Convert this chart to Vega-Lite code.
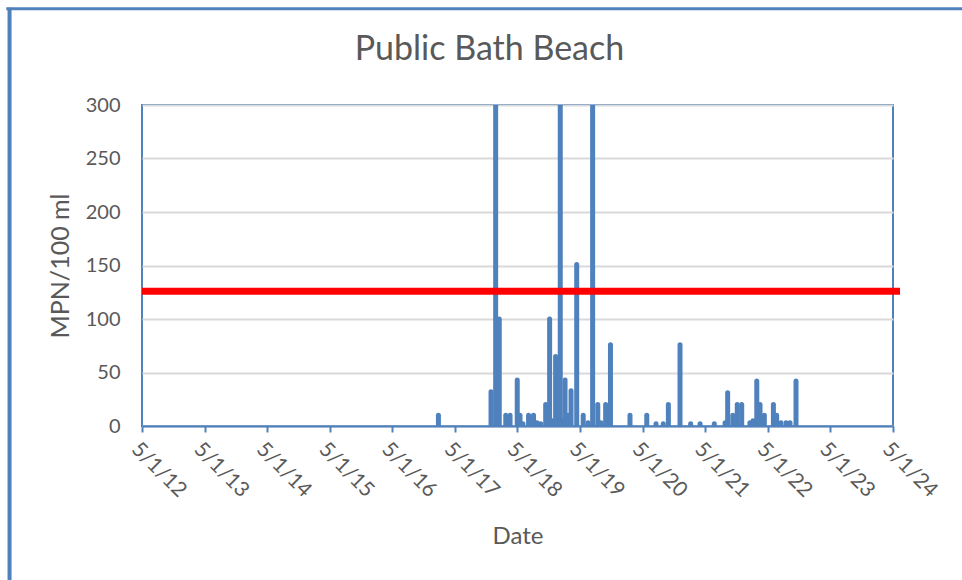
{
  "$schema": "https://vega.github.io/schema/vega-lite/v6.json",
  "width": 751,
  "height": 321,
  "autosize": "none",
  "padding": {"left": 142, "top": 105, "right": 69, "bottom": 154},
  "background": "white",
  "config": {
    "view": {"stroke": "#4F81BD", "strokeWidth": 2},
    "font": "Lato",
    "text": {"font": "Lato"}
  },
  "title": {
    "text": "Public Bath Beach",
    "font": "Lato",
    "fontSize": 34,
    "fontWeight": "normal",
    "color": "#595959",
    "dx": -28,
    "offset": -61
  },
  "layer": [
    {
      "data": {"values": [
        {"date": "2017-01-25", "mpn": 10},
        {"date": "2017-11-28", "mpn": 32},
        {"date": "2017-12-25", "mpn": 1000},
        {"date": "2018-01-15", "mpn": 100},
        {"date": "2018-02-22", "mpn": 10},
        {"date": "2018-03-19", "mpn": 10},
        {"date": "2018-04-30", "mpn": 43},
        {"date": "2018-05-16", "mpn": 10},
        {"date": "2018-06-02", "mpn": 2},
        {"date": "2018-07-05", "mpn": 10},
        {"date": "2018-08-03", "mpn": 10},
        {"date": "2018-08-23", "mpn": 3},
        {"date": "2018-09-14", "mpn": 2},
        {"date": "2018-10-13", "mpn": 20},
        {"date": "2018-11-05", "mpn": 100},
        {"date": "2018-11-20", "mpn": 5},
        {"date": "2018-12-10", "mpn": 65},
        {"date": "2019-01-06", "mpn": 1000},
        {"date": "2019-01-20", "mpn": 5},
        {"date": "2019-02-03", "mpn": 43},
        {"date": "2019-02-20", "mpn": 10},
        {"date": "2019-03-10", "mpn": 33},
        {"date": "2019-04-12", "mpn": 151},
        {"date": "2019-05-20", "mpn": 10},
        {"date": "2019-06-17", "mpn": 3},
        {"date": "2019-07-14", "mpn": 1000},
        {"date": "2019-08-13", "mpn": 20},
        {"date": "2019-09-01", "mpn": 3},
        {"date": "2019-09-28", "mpn": 20},
        {"date": "2019-10-26", "mpn": 76},
        {"date": "2020-02-17", "mpn": 10},
        {"date": "2020-05-25", "mpn": 10},
        {"date": "2020-07-18", "mpn": 2},
        {"date": "2020-08-29", "mpn": 2},
        {"date": "2020-09-28", "mpn": 20},
        {"date": "2020-12-05", "mpn": 76},
        {"date": "2021-02-05", "mpn": 2},
        {"date": "2021-04-01", "mpn": 2},
        {"date": "2021-06-23", "mpn": 2},
        {"date": "2021-08-25", "mpn": 3},
        {"date": "2021-09-09", "mpn": 31},
        {"date": "2021-10-09", "mpn": 10},
        {"date": "2021-11-04", "mpn": 20},
        {"date": "2021-11-30", "mpn": 20},
        {"date": "2022-01-17", "mpn": 3},
        {"date": "2022-02-04", "mpn": 5},
        {"date": "2022-02-26", "mpn": 42},
        {"date": "2022-03-17", "mpn": 20},
        {"date": "2022-04-11", "mpn": 10},
        {"date": "2022-06-03", "mpn": 20},
        {"date": "2022-06-22", "mpn": 10},
        {"date": "2022-07-17", "mpn": 3},
        {"date": "2022-08-16", "mpn": 3},
        {"date": "2022-09-08", "mpn": 3},
        {"date": "2022-10-13", "mpn": 42}
      ]},
      "mark": {"type": "rule", "strokeWidth": 5, "strokeCap": "round", "color": "#4F81BD", "clip": true},
      "encoding": {
        "x": {
          "field": "date",
          "type": "temporal",
          "title": "Date",
          "scale": {"type": "utc", "domain": [{"year": 2012, "month": 5, "date": 1, "utc": true}, {"year": 2024, "month": 5, "date": 1, "utc": true}], "nice": false},
          "axis": {
            "values": [
              {"year": 2012, "month": 5, "date": 1, "utc": true},
              {"year": 2013, "month": 5, "date": 1, "utc": true},
              {"year": 2014, "month": 5, "date": 1, "utc": true},
              {"year": 2015, "month": 5, "date": 1, "utc": true},
              {"year": 2016, "month": 5, "date": 1, "utc": true},
              {"year": 2017, "month": 5, "date": 1, "utc": true},
              {"year": 2018, "month": 5, "date": 1, "utc": true},
              {"year": 2019, "month": 5, "date": 1, "utc": true},
              {"year": 2020, "month": 5, "date": 1, "utc": true},
              {"year": 2021, "month": 5, "date": 1, "utc": true},
              {"year": 2022, "month": 5, "date": 1, "utc": true},
              {"year": 2023, "month": 5, "date": 1, "utc": true},
              {"year": 2024, "month": 5, "date": 1, "utc": true}
            ],
            "labelExpr": "utcFormat(datum.value, '%-m/%-d/%y')",
            "labelAngle": 45,
            "labelAlign": "left",
            "labelBaseline": "top",
            "labelFontSize": 21,
            "labelColor": "#595959",
            "labelPadding": 6,
            "labelFlush": false,
            "labelOverlap": false,
            "domainColor": "#4F81BD",
            "domainWidth": 2,
            "tickColor": "#4F81BD",
            "tickWidth": 2,
            "tickSize": 6,
            "grid": false,
            "titleFontSize": 24,
            "titleFontWeight": "normal",
            "titleColor": "#595959",
            "titlePadding": 24
          }
        },
        "y": {
          "field": "mpn",
          "type": "quantitative",
          "title": "MPN/100 ml",
          "scale": {"domain": [0, 300], "nice": false},
          "axis": {
            "values": [0, 50, 100, 150, 200, 250, 300],
            "domain": false,
            "ticks": false,
            "labelPadding": 22,
            "labelFontSize": 20,
            "labelColor": "#595959",
            "gridColor": "#D9D9D9",
            "gridWidth": 2,
            "titleFontSize": 25,
            "titleFontWeight": "normal",
            "titleColor": "#595959",
            "titlePadding": 12
          }
        },
        "y2": {"datum": 0}
      }
    },
    {
      "data": {"values": [{"limit": 126}]},
      "mark": {"type": "rule", "strokeWidth": 7, "color": "#FF0000", "clip": false},
      "encoding": {
        "y": {"field": "limit", "type": "quantitative"},
        "x": {"datum": {"year": 2012, "month": 5, "date": 1, "utc": true}},
        "x2": {"datum": {"year": 2024, "month": 6, "date": 11, "utc": true}}
      }
    },
    {
      "data": {"values": [{}]},
      "mark": {"type": "rule", "strokeWidth": 4, "color": "#4F81BD", "clip": false},
      "encoding": {
        "x": {"datum": {"year": 2010, "month": 3, "date": 20, "utc": true}},
        "y": {"datum": 391},
        "y2": {"datum": -200}
      }
    },
    {
      "data": {"values": [{}]},
      "mark": {"type": "rule", "strokeWidth": 3, "color": "#4F81BD", "clip": false},
      "encoding": {
        "x": {"datum": {"year": 2010, "month": 3, "date": 1, "utc": true}},
        "x2": {"datum": {"year": 2026, "month": 1, "date": 1, "utc": true}},
        "y": {"datum": 390}
      }
    }
  ]
}
